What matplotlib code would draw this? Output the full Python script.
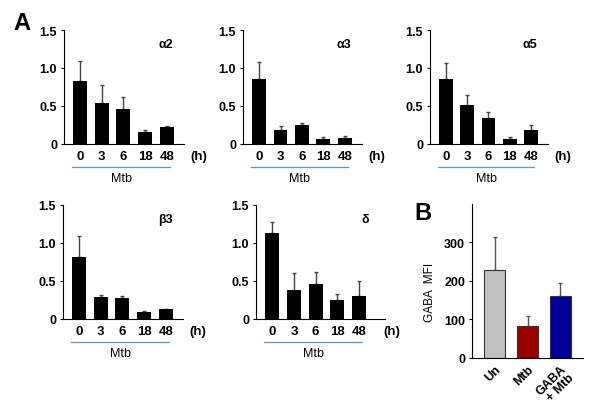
import numpy as np
import matplotlib
matplotlib.use("Agg")
import matplotlib.pyplot as plt

plt.rcParams["font.family"] = ["Liberation Sans", "DejaVu Sans"]

# --- data ---
hours = ["0", "3", "6", "18", "48"]

a2_mean = [0.82, 0.53, 0.45, 0.155, 0.215]
a2_err = [0.27, 0.24, 0.17, 0.03, 0.01]

a3_mean = [0.85, 0.185, 0.24, 0.06, 0.075]
a3_err = [0.23, 0.04, 0.03, 0.025, 0.02]

a5_mean = [0.855, 0.51, 0.335, 0.066, 0.185]
a5_err = [0.215, 0.13, 0.085, 0.018, 0.065]

b3_mean = [0.815, 0.278, 0.27, 0.084, 0.12]
b3_err = [0.27, 0.032, 0.03, 0.01, 0.008]

d_mean = [1.125, 0.375, 0.45, 0.24, 0.30]
d_err = [0.155, 0.225, 0.16, 0.08, 0.19]

gaba_groups = ["Un", "Mtb", "GABA\n+ Mtb"]
gaba_mfi = [228, 81, 159]
gaba_err = [85, 26, 34]
gaba_colors = ["#c0c0c0", "#990000", "#000099"]

W, H = 594, 414
fig = plt.figure(figsize=(W / 100, H / 100), dpi=100)


def rect(x0, x1, ytop, ybot):
    return [x0 / W, 1 - ybot / H, (x1 - x0) / W, (ybot - ytop) / H]


def time_panel(r, mean, err, label, xmax=4.8):
    ax = fig.add_axes(r)
    x = np.arange(len(hours))
    ax.bar(x, mean, width=0.65, color="black", zorder=2)
    ax.errorbar(x, mean, yerr=[np.zeros(len(mean)), err], fmt="none",
                ecolor="#444444", elinewidth=1, capsize=1.5, capthick=1, zorder=1)
    ax.set_xlim(-0.75, xmax)
    ax.set_ylim(0, 1.5)
    ax.set_yticks([0, 0.5, 1.0, 1.5])
    ax.set_yticklabels(["0", "0.5", "1.0", "1.5"], fontweight="bold", fontsize=9)
    ax.set_xticks(x)
    ax.set_xticklabels(hours, fontsize=9.5, fontweight="bold")
    ax.tick_params(axis="x", length=0, pad=5)
    ax.tick_params(axis="y", length=2, pad=3)
    for s in ["top", "right"]:
        ax.spines[s].set_visible(False)
    ax.text(0.85, 0.88, label, transform=ax.transAxes, fontsize=9,
            fontweight="bold", ha="center", va="center")
    ax.text(5.5, -0.11, "(h)", transform=ax.get_xaxis_transform(),
            fontsize=9.5, fontweight="bold", ha="center", va="center", clip_on=False)
    ax.plot([-0.37, 4.15], [-0.207, -0.207], transform=ax.get_xaxis_transform(),
            color="#4f9fc8", lw=0.9, clip_on=False)
    ax.text(1.9, -0.305, "Mtb", transform=ax.get_xaxis_transform(),
            fontsize=9, ha="center", va="center", clip_on=False)
    return ax


time_panel(rect(64, 184, 31, 144.5), a2_mean, a2_err, "α2")
time_panel(rect(243, 362, 31, 144.5), a3_mean, a3_err, "α3")
time_panel(rect(430, 548, 31, 144.5), a5_mean, a5_err, "α5")
time_panel(rect(63, 183, 206, 319.5), b3_mean, b3_err, "β3")
time_panel(rect(256, 385, 206, 319.5), d_mean, d_err, "δ", xmax=5.2)

# --- panel B ---
axb = fig.add_axes(rect(472, 583, 205, 358.5))
xb = np.arange(len(gaba_groups))
axb.bar(xb, gaba_mfi, width=0.65, color=gaba_colors, edgecolor="#333333",
        linewidth=0.8, zorder=2)
axb.errorbar(xb, gaba_mfi, yerr=[np.zeros(3), gaba_err], fmt="none",
             ecolor="#555555", elinewidth=1, capsize=1.5, capthick=1, zorder=1)
axb.set_xlim(-0.7, 2.7)
axb.set_ylim(0, 400)
axb.set_yticks([0, 100, 200, 300])
axb.set_yticklabels(["0", "100", "200", "300"], fontweight="bold", fontsize=9)
axb.tick_params(axis="y", length=2, pad=3)
axb.set_xticks(xb)
axb.set_xticklabels(gaba_groups, rotation=45, ha="right", rotation_mode="anchor",
                    fontweight="bold", fontsize=9, linespacing=0.95)
axb.tick_params(axis="x", length=0, pad=4)
axb.set_ylabel("GABA  MFI", fontsize=8.5, labelpad=6)
axb.yaxis.set_label_coords(-0.32, 0.43)
for s in ["top", "right"]:
    axb.spines[s].set_visible(False)

fig.text(22 / W, 1 - 24 / H, "A", fontsize=17, fontweight="bold", ha="center", va="center")
fig.text(423 / W, 1 - 214 / H, "B", fontsize=17, fontweight="bold", ha="center", va="center")

fig.savefig("out.png", dpi=100)
